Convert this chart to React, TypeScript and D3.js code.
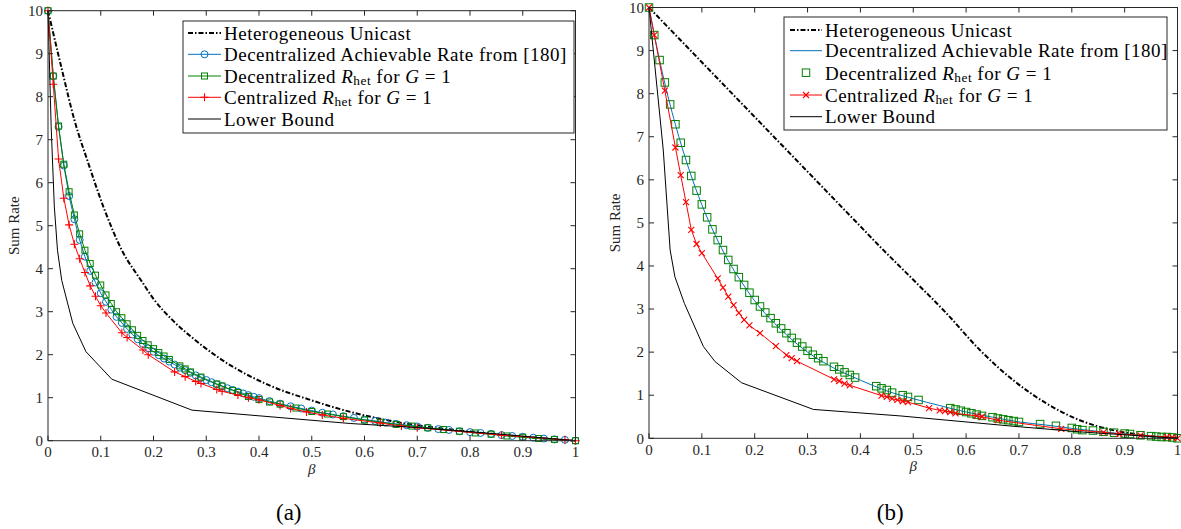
import React from 'react';
import * as d3 from 'd3';

// ---------- shared axis data ----------
const xTicks = [0, 0.1, 0.2, 0.3, 0.4, 0.5, 0.6, 0.7, 0.8, 0.9, 1];
const xTickLabels = ['0', '0.1', '0.2', '0.3', '0.4', '0.5', '0.6', '0.7', '0.8', '0.9', '1'];
const yTicks = [0, 1, 2, 3, 4, 5, 6, 7, 8, 9, 10];
const yTickLabels = ['0', '1', '2', '3', '4', '5', '6', '7', '8', '9', '10'];

const legendLabels = [
  'Heterogeneous Unicast',
  'Decentralized Achievable Rate from [180]',
  'Decentralized R_het for G = 1',
  'Centralized R_het for G = 1',
  'Lower Bound',
];
const captions = ['(a)', '(b)'];

// ---------- panel (a) ----------
const aHetBeta = [0, 0.025, 0.05, 0.0765, 0.105, 0.14, 0.178, 0.2, 0.238, 0.28, 0.32, 0.421, 0.497, 0.573, 0.668, 0.75, 0.85, 0.93, 1];
const aHetRate = [10, 8.7, 7.46, 6.45, 5.44, 4.43, 3.7, 3.3, 2.78, 2.33, 1.96, 1.28, 0.95, 0.67, 0.42, 0.28, 0.15, 0.06, 0];

const aBlueBeta = [0, 0.01, 0.02, 0.03, 0.04, 0.05, 0.06, 0.07, 0.08, 0.09, 0.1, 0.11, 0.12, 0.13, 0.14, 0.15, 0.16, 0.17, 0.18, 0.19, 0.2, 0.21, 0.22, 0.23, 0.24, 0.25, 0.26, 0.27, 0.28, 0.29, 0.3, 0.31, 0.32, 0.33, 0.34, 0.35, 0.36, 0.37, 0.38, 0.39, 0.4, 0.42, 0.44, 0.46, 0.48, 0.5, 0.52, 0.54, 0.56, 0.58, 0.6, 0.62, 0.64, 0.66, 0.68, 0.7, 0.72, 0.74, 0.76, 0.78, 0.8, 0.82, 0.84, 0.86, 0.88, 0.9, 0.92, 0.94, 0.96, 0.98, 1];
const aBlueRate = [10, 8.48, 7.3, 6.4, 5.69, 5.15, 4.67, 4.28, 3.95, 3.68, 3.43, 3.23, 3.05, 2.88, 2.74, 2.6, 2.47, 2.36, 2.25, 2.15, 2.07, 1.99, 1.91, 1.84, 1.77, 1.7, 1.64, 1.58, 1.52, 1.46, 1.41, 1.36, 1.31, 1.27, 1.22, 1.18, 1.14, 1.1, 1.06, 1.02, 0.99, 0.92, 0.86, 0.8, 0.75, 0.7, 0.65, 0.61, 0.57, 0.53, 0.49, 0.46, 0.42, 0.39, 0.36, 0.33, 0.3, 0.27, 0.25, 0.22, 0.2, 0.18, 0.16, 0.13, 0.11, 0.09, 0.07, 0.05, 0.03, 0.02, 0];

const aGreenBeta = [0, 0.01, 0.02, 0.03, 0.04, 0.05, 0.06, 0.07, 0.08, 0.09, 0.1, 0.11, 0.12, 0.13, 0.14, 0.15, 0.16, 0.17, 0.18, 0.19, 0.2, 0.21, 0.22, 0.23, 0.25, 0.26, 0.27, 0.29, 0.32, 0.33, 0.35, 0.36, 0.38, 0.4, 0.42, 0.44, 0.47, 0.5, 0.53, 0.56, 0.6, 0.63, 0.66, 0.69, 0.72, 0.75, 0.78, 0.81, 0.84, 0.87, 0.9, 0.93, 0.96, 1];
const aGreenRate = [10, 8.48, 7.32, 6.43, 5.79, 5.25, 4.81, 4.43, 4.12, 3.85, 3.62, 3.39, 3.19, 3.0, 2.86, 2.72, 2.58, 2.45, 2.33, 2.23, 2.14, 2.05, 1.97, 1.89, 1.74, 1.67, 1.6, 1.48, 1.32, 1.27, 1.17, 1.12, 1.03, 0.96, 0.9, 0.85, 0.76, 0.68, 0.62, 0.56, 0.48, 0.43, 0.38, 0.34, 0.3, 0.26, 0.22, 0.18, 0.15, 0.11, 0.08, 0.05, 0.03, 0];

const aRedBeta = [0, 0.01, 0.02, 0.03, 0.04, 0.05, 0.06, 0.07, 0.08, 0.09, 0.1, 0.11, 0.14, 0.15, 0.18, 0.19, 0.24, 0.26, 0.28, 0.29, 0.32, 0.33, 0.36, 0.38, 0.4, 0.44, 0.46, 0.49, 0.52, 0.56, 0.63, 0.67, 0.7, 0.86, 0.98, 1];
const aRedRate = [10, 8.29, 6.55, 5.64, 5.02, 4.57, 4.23, 3.91, 3.6, 3.36, 3.14, 2.97, 2.51, 2.4, 2.11, 2.0, 1.6, 1.49, 1.38, 1.33, 1.19, 1.15, 1.06, 1.0, 0.95, 0.82, 0.75, 0.67, 0.6, 0.52, 0.41, 0.34, 0.3, 0.13, 0.02, 0];

const aLowBeta = [0, 0.006, 0.012, 0.018, 0.026, 0.047, 0.072, 0.121, 0.273, 0.573, 0.706, 0.85, 1];
const aLowRate = [10, 7.3, 5.44, 4.43, 3.73, 2.73, 2.07, 1.43, 0.71, 0.4, 0.3, 0.16, 0];

// ---------- panel (b) ----------
const bHetBeta = [0, 0.1, 0.2, 0.3, 0.4, 0.437, 0.5, 0.563, 0.626, 0.689, 0.752, 0.815, 0.878, 0.929, 1];
const bHetRate = [10, 8.73, 7.46, 6.19, 4.92, 4.45, 3.68, 2.9, 2.05, 1.35, 0.81, 0.42, 0.19, 0.08, 0];

const bBlueBeta = [0, 0.025, 0.05, 0.075, 0.1, 0.125, 0.15, 0.175, 0.2, 0.25, 0.3, 0.35, 0.4, 0.45, 0.5, 0.55, 0.6, 0.65, 0.7, 0.75, 0.8, 0.85, 0.9, 0.95, 1];
const bBlueRate = [10, 8.5, 7.28, 6.27, 5.42, 4.72, 4.12, 3.63, 3.19, 2.52, 2.0, 1.63, 1.35, 1.1, 0.92, 0.76, 0.61, 0.49, 0.38, 0.31, 0.23, 0.16, 0.1, 0.05, 0];

const bGreenBeta = [0, 0.01, 0.02, 0.03, 0.04, 0.05, 0.06, 0.07, 0.08, 0.09, 0.1, 0.11, 0.12, 0.13, 0.14, 0.15, 0.16, 0.17, 0.18, 0.19, 0.2, 0.21, 0.22, 0.23, 0.24, 0.25, 0.26, 0.27, 0.28, 0.29, 0.3, 0.31, 0.32, 0.33, 0.35, 0.36, 0.37, 0.38, 0.39, 0.43, 0.44, 0.45, 0.46, 0.48, 0.49, 0.51, 0.57, 0.58, 0.59, 0.6, 0.61, 0.62, 0.63, 0.65, 0.66, 0.67, 0.68, 0.69, 0.7, 0.74, 0.77, 0.8, 0.81, 0.82, 0.84, 0.86, 0.88, 0.9, 0.91, 0.93, 0.95, 0.96, 0.97, 0.98, 0.99, 1];
const bGreenRate = [10, 9.36, 8.78, 8.26, 7.75, 7.29, 6.86, 6.46, 6.09, 5.75, 5.43, 5.13, 4.85, 4.6, 4.37, 4.14, 3.93, 3.74, 3.56, 3.38, 3.21, 3.06, 2.92, 2.79, 2.67, 2.55, 2.44, 2.33, 2.22, 2.13, 2.03, 1.94, 1.86, 1.79, 1.66, 1.6, 1.53, 1.47, 1.41, 1.21, 1.16, 1.12, 1.06, 1.0, 0.96, 0.89, 0.7, 0.67, 0.64, 0.61, 0.58, 0.55, 0.52, 0.49, 0.46, 0.44, 0.42, 0.4, 0.38, 0.33, 0.29, 0.24, 0.21, 0.19, 0.18, 0.15, 0.13, 0.11, 0.1, 0.07, 0.05, 0.04, 0.03, 0.03, 0.02, 0];

const bRedBeta = [0, 0.01, 0.03, 0.05, 0.06, 0.07, 0.08, 0.09, 0.1, 0.13, 0.14, 0.15, 0.16, 0.17, 0.18, 0.19, 0.21, 0.24, 0.26, 0.27, 0.28, 0.35, 0.36, 0.37, 0.38, 0.44, 0.45, 0.46, 0.47, 0.48, 0.49, 0.53, 0.55, 0.56, 0.57, 0.58, 0.62, 0.63, 0.66, 0.78, 0.86, 0.89, 0.93, 0.98, 0.99, 1];
const bRedRate = [10, 9.36, 8.07, 6.75, 6.11, 5.48, 4.84, 4.51, 4.3, 3.71, 3.5, 3.29, 3.09, 2.91, 2.75, 2.62, 2.44, 2.14, 1.93, 1.86, 1.79, 1.37, 1.33, 1.27, 1.23, 0.99, 0.96, 0.92, 0.89, 0.86, 0.84, 0.7, 0.65, 0.63, 0.61, 0.58, 0.52, 0.5, 0.42, 0.22, 0.14, 0.1, 0.07, 0.03, 0.02, 0];

const bLowBeta = [0, 0.027, 0.04, 0.049, 0.067, 0.103, 0.125, 0.175, 0.311, 0.475, 0.689, 0.815, 1];
const bLowRate = [10, 6.69, 4.37, 3.75, 3.13, 2.13, 1.78, 1.29, 0.67, 0.52, 0.28, 0.15, 0];

// ---------- styling ----------
const FONT = "'Liberation Serif', 'Times New Roman', serif";
const AXIS_COLOR = '#262626';
const BLUE = '#0072BD';
const GREEN = '#008000';
const RED = '#FF0000';

type Series = {
  beta: number[];
  rate: number[];
  color: string;
  width: number;
  dash?: string;
  smooth?: boolean;
  showLine: boolean;
  marker?: 'circle' | 'square' | 'plus' | 'x';
  ms?: number;
};

function Marker({ type, cx, cy, s, color }: { type: string; cx: number; cy: number; s: number; color: string }) {
  const h = s / 2;
  if (type === 'circle') return <circle cx={cx} cy={cy} r={h} fill="none" stroke={color} strokeWidth={1} />;
  if (type === 'square') return <rect x={cx - h} y={cy - h} width={s} height={s} fill="none" stroke={color} strokeWidth={1} />;
  if (type === 'plus')
    return <path d={`M${cx - h},${cy}H${cx + h}M${cx},${cy - h}V${cy + h}`} stroke={color} strokeWidth={1.1} fill="none" />;
  return (
    <path d={`M${cx - h},${cy - h}L${cx + h},${cy + h}M${cx - h},${cy + h}L${cx + h},${cy - h}`} stroke={color} strokeWidth={1.1} fill="none" />
  );
}

function LegendText({ label, x, y, size }: { label: string; x: number; y: number; size: number }) {
  if (label.includes('R_het')) {
    const [pre] = label.split('R_het');
    return (
      <text x={x} y={y} fontFamily={FONT} fontSize={size} fill="#000" letterSpacing={0.5} dominantBaseline="central">
        <tspan>{pre}</tspan>
        <tspan fontStyle="italic">R</tspan>
        <tspan fontSize={size * 0.7} dy={4}>het</tspan>
        <tspan dy={-4}> for </tspan>
        <tspan fontStyle="italic">G</tspan>
        <tspan> = 1</tspan>
      </text>
    );
  }
  return (
    <text x={x} y={y} fontFamily={FONT} fontSize={size} fill="#000" letterSpacing={0.5} dominantBaseline="central">
      {label}
    </text>
  );
}

type PanelCfg = {
  x0: number;
  x1: number;
  yb: number;
  yt: number;
  series: Series[];
  legend: { x: number; y: number; w: number; h: number; rows: number[]; lx0: number; lx1: number; tx: number };
  ylabelX: number;
  caption: string;
  captionY: number;
};

function Panel({ cfg }: { cfg: PanelCfg }) {
  const x = d3.scaleLinear().domain([0, 1]).range([cfg.x0, cfg.x1]);
  const y = d3.scaleLinear().domain([0, 10]).range([cfg.yb, cfg.yt]);
  const tl = 5;
  const mid = (cfg.x0 + cfg.x1) / 2;
  const L = cfg.legend;
  return (
    <g>
      {cfg.series.map((s, si) => {
        const line = d3
          .line<number>()
          .x((_, i) => x(s.beta[i]))
          .y((d) => y(d))
          .curve(s.smooth ? d3.curveMonotoneX : d3.curveLinear);
        return (
          <g key={si}>
            {s.showLine && (
              <path d={line(s.rate) || ''} fill="none" stroke={s.color} strokeWidth={s.width} strokeDasharray={s.dash} />
            )}
            {s.marker &&
              s.rate.map((v, i) => (
                <Marker key={i} type={s.marker!} cx={x(s.beta[i])} cy={y(v)} s={s.ms || 6} color={s.color} />
              ))}
          </g>
        );
      })}
      <rect x={cfg.x0} y={cfg.yt} width={cfg.x1 - cfg.x0} height={cfg.yb - cfg.yt} fill="none" stroke={AXIS_COLOR} strokeWidth={1} />
      {xTicks.map((t, i) => (
        <g key={'x' + i}>
          <line x1={x(t)} x2={x(t)} y1={cfg.yb} y2={cfg.yb - tl} stroke={AXIS_COLOR} />
          <line x1={x(t)} x2={x(t)} y1={cfg.yt} y2={cfg.yt + tl} stroke={AXIS_COLOR} />
          <text x={x(t)} y={cfg.yb + 16.5} textAnchor="middle" fontFamily={FONT} fontSize={15} fill={AXIS_COLOR}>
            {xTickLabels[i]}
          </text>
        </g>
      ))}
      {yTicks.map((t, i) => (
        <g key={'y' + i}>
          <line x1={cfg.x0} x2={cfg.x0 + tl} y1={y(t)} y2={y(t)} stroke={AXIS_COLOR} />
          <line x1={cfg.x1} x2={cfg.x1 - tl} y1={y(t)} y2={y(t)} stroke={AXIS_COLOR} />
          <text x={cfg.x0 - 5} y={y(t)} dy="0.35em" textAnchor="end" fontFamily={FONT} fontSize={15} fill={AXIS_COLOR}>
            {yTickLabels[i]}
          </text>
        </g>
      ))}
      <text
        transform={`translate(${cfg.ylabelX},${(cfg.yb + cfg.yt) / 2}) rotate(-90)`}
        textAnchor="middle"
        dy="0.35em"
        fontFamily={FONT}
        fontSize={15}
        fill={AXIS_COLOR}
      >
        Sum Rate
      </text>
      <text x={mid} y={cfg.yb + 33} textAnchor="middle" fontFamily={FONT} fontSize={15} fontStyle="italic" fill={AXIS_COLOR}>
        β
      </text>
      <text x={mid - 23} y={cfg.captionY} textAnchor="middle" fontFamily={FONT} fontSize={23} fill="#000">
        {cfg.caption}
      </text>
      <rect x={L.x} y={L.y} width={L.w} height={L.h} fill="#fff" stroke={AXIS_COLOR} strokeWidth={1} />
      {cfg.series.map((s, si) => {
        const ry = L.rows[si];
        const cx = (L.lx0 + L.lx1) / 2;
        return (
          <g key={'l' + si}>
            {s.showLine && (
              <line x1={L.lx0} x2={L.lx1} y1={ry} y2={ry} stroke={s.color} strokeWidth={s.width} strokeDasharray={s.dash} />
            )}
            {s.marker && <Marker type={s.marker} cx={cx} cy={ry} s={s.ms || 6} color={s.color} />}
            <LegendText label={legendLabels[si]} x={L.tx} y={ry} size={19} />
          </g>
        );
      })}
    </g>
  );
}

const DASHDOT = '5,2,1.5,2';

const panelA: PanelCfg = {
  x0: 48,
  x1: 575.5,
  yb: 440.7,
  yt: 10.7,
  series: [
    { beta: aHetBeta, rate: aHetRate, color: '#000', width: 2, dash: DASHDOT, smooth: true, showLine: true },
    { beta: aBlueBeta, rate: aBlueRate, color: BLUE, width: 1, showLine: true, marker: 'circle', ms: 7 },
    { beta: aGreenBeta, rate: aGreenRate, color: GREEN, width: 1, showLine: true, marker: 'square', ms: 6 },
    { beta: aRedBeta, rate: aRedRate, color: RED, width: 1, showLine: true, marker: 'plus', ms: 8 },
    { beta: aLowBeta, rate: aLowRate, color: '#000', width: 1, showLine: true },
  ],
  legend: { x: 183, y: 21, w: 391, h: 112, rows: [33, 54.3, 76, 97.3, 119], lx0: 188, lx1: 221, tx: 224 },
  ylabelX: 14,
  caption: captions[0],
  captionY: 520,
};

const panelB: PanelCfg = {
  x0: 649,
  x1: 1177.5,
  yb: 438.3,
  yt: 7.5,
  series: [
    { beta: bHetBeta, rate: bHetRate, color: '#000', width: 2, dash: DASHDOT, smooth: true, showLine: true },
    { beta: bBlueBeta, rate: bBlueRate, color: BLUE, width: 1, smooth: true, showLine: true },
    { beta: bGreenBeta, rate: bGreenRate, color: GREEN, width: 1, showLine: false, marker: 'square', ms: 7.5 },
    { beta: bRedBeta, rate: bRedRate, color: RED, width: 1, showLine: true, marker: 'x', ms: 6 },
    { beta: bLowBeta, rate: bLowRate, color: '#000', width: 1, showLine: true },
  ],
  legend: { x: 784, y: 17, w: 383, h: 113, rows: [30, 50.7, 72.7, 95, 116.7], lx0: 790, lx1: 822, tx: 825 },
  ylabelX: 615,
  caption: captions[1],
  captionY: 520,
};

export default function App() {
  return (
    <svg
      width={1181}
      height={529}
      style={{ position: 'absolute', left: 0, top: 0, background: '#fff' }}
      xmlns="http://www.w3.org/2000/svg"
    >
      <rect x={0} y={0} width={1181} height={529} fill="#fff" />
      <Panel cfg={panelA} />
      <Panel cfg={panelB} />
    </svg>
  );
}
